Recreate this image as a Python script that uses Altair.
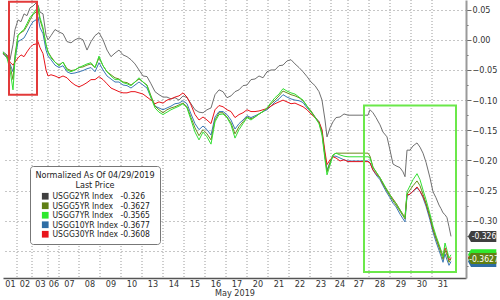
import altair as alt
import pandas as pd
from itertools import accumulate

FONT = "Liberation Sans Narrow, Arial Narrow, DejaVu Sans Condensed, sans-serif"

# ---- x axis: trading sessions (label, number of intraday bars shown) ----
day_labels = ["01", "02", "03", "06", "07", "08", "09", "10", "13", "14", "15", "16",
              "17", "20", "21", "22", "23", "24", "27", "28", "29", "30", "31"]
session_bars = [14, 15, 16, 11, 20, 21, 21, 21, 21, 21, 21, 21,
                21, 21, 21, 21, 21, 17, 21, 21, 21, 21, 21]

# bar index of each sampled reading
bar = [0, 4, 7, 10, 12, 15, 18, 21, 24, 27, 30, 33, 35, 37, 40, 43, 45, 48,
       52, 56, 60, 64, 68, 72, 76, 80, 84, 88, 92, 96, 100, 104, 108, 112, 116, 120, 124, 128, 132, 136, 140, 144,
       148, 152, 156, 160, 164, 168, 172, 176, 180, 184, 188, 192, 196, 200, 204, 208, 212, 216, 220, 224,
       228, 232, 236, 240, 244, 248, 252, 256, 260, 264, 268, 272, 276, 280, 284, 288, 292, 296, 300, 304,
       308, 312, 316,
       319, 322, 324, 327, 330, 333, 337, 341,
       345, 349, 353, 357, 361, 365,
       367, 370, 373, 377, 380, 384, 387, 390, 393, 397, 400, 402, 404, 407, 410, 414, 417, 420, 423, 427,
       430, 433, 436, 438, 440, 442, 444, 446, 448]

usgg2 = [-0.020, -0.025, -0.033, -0.008, 0.017, 0.033, 0.030, 0.043, 0.040, 0.053, 0.056, 0.061, 0.058, 0.046, 0.043, 0.008, 0.000, 0.007,
         0.017, 0.013, 0.010, -0.003, -0.005, 0.000, 0.003, 0.000, -0.017, -0.003, 0.007, 0.012, 0.000, -0.017, -0.028, -0.022, -0.017, -0.025, -0.028, -0.033, -0.040, -0.050, -0.060, -0.061,
         -0.073, -0.086, -0.091, -0.095, -0.095, -0.098, -0.096, -0.100, -0.093, -0.096,
         -0.106, -0.116, -0.120, -0.121, -0.116, -0.113, -0.091, -0.083, -0.086, -0.096,
         -0.093, -0.086, -0.083, -0.076, -0.075, -0.066, -0.065, -0.060, -0.063, -0.053,
         -0.050, -0.050, -0.043, -0.042, -0.035, -0.033, -0.040, -0.046, -0.053, -0.061,
         -0.070, -0.076, -0.086,
         -0.100, -0.133, -0.161, -0.146, -0.136, -0.129, -0.128, -0.123,
         -0.125, -0.125, -0.125, -0.125, -0.125, -0.125,
         -0.116, -0.121, -0.129, -0.141, -0.153, -0.161, -0.183, -0.206, -0.209, -0.212, -0.219, -0.227, -0.183, -0.183,
         -0.176, -0.171, -0.178, -0.188, -0.203, -0.229, -0.252, -0.262, -0.274, -0.280, -0.287, -0.290, -0.295, -0.310, -0.326]

usgg5 = [-0.022, -0.028, -0.043, -0.066, -0.025, 0.007, 0.012, 0.015, 0.023, 0.033, 0.042, 0.046, 0.051, 0.033, 0.017, -0.008, -0.020, -0.028,
         -0.037, -0.042, -0.037, -0.048, -0.051, -0.050, -0.046, -0.045, -0.042, -0.040, -0.046, -0.030, -0.043, -0.053, -0.058, -0.063, -0.065, -0.070, -0.071, -0.075, -0.070, -0.065, -0.070, -0.075,
         -0.093, -0.110, -0.116, -0.121, -0.116, -0.113, -0.111, -0.108, -0.105, -0.111,
         -0.129, -0.146, -0.159, -0.149, -0.156, -0.166, -0.133, -0.121, -0.121, -0.128,
         -0.138, -0.156, -0.144, -0.136, -0.128, -0.131, -0.128, -0.123, -0.119, -0.114,
         -0.106, -0.100, -0.093, -0.085, -0.088, -0.091, -0.093, -0.096, -0.101, -0.110,
         -0.118, -0.128, -0.138,
         -0.154, -0.194, -0.219, -0.204, -0.191, -0.188, -0.188, -0.188,
         -0.188, -0.188, -0.188, -0.188, -0.188, -0.188,
         -0.193, -0.211, -0.219, -0.229, -0.239, -0.251, -0.259, -0.267, -0.274, -0.284, -0.292, -0.297, -0.256, -0.249,
         -0.242, -0.234, -0.242, -0.256, -0.271, -0.294, -0.314, -0.330, -0.344, -0.354, -0.364, -0.349, -0.357, -0.369, -0.3627]

usgg7 = [-0.020, -0.030, -0.050, -0.083, -0.033, 0.008, 0.013, 0.017, 0.027, 0.037, 0.043, 0.050, 0.055, 0.037, 0.020, -0.008, -0.020, -0.030,
         -0.037, -0.043, -0.037, -0.050, -0.053, -0.050, -0.046, -0.043, -0.040, -0.038, -0.046, -0.027, -0.043, -0.053, -0.060, -0.066, -0.066, -0.071, -0.073, -0.076, -0.070, -0.063, -0.070, -0.076,
         -0.096, -0.113, -0.120, -0.124, -0.120, -0.116, -0.113, -0.110, -0.106, -0.113,
         -0.133, -0.153, -0.166, -0.153, -0.161, -0.173, -0.136, -0.124, -0.123, -0.129,
         -0.141, -0.163, -0.149, -0.139, -0.129, -0.133, -0.128, -0.123, -0.119, -0.113,
         -0.104, -0.096, -0.090, -0.081, -0.085, -0.088, -0.090, -0.095, -0.100, -0.110,
         -0.120, -0.129, -0.139,
         -0.158, -0.199, -0.224, -0.208, -0.191, -0.188, -0.191, -0.193,
         -0.194, -0.194, -0.194, -0.194, -0.194, -0.194,
         -0.196, -0.212, -0.219, -0.229, -0.237, -0.249, -0.257, -0.265, -0.271, -0.282, -0.290, -0.295, -0.252, -0.242,
         -0.232, -0.222, -0.232, -0.249, -0.265, -0.289, -0.309, -0.325, -0.339, -0.349, -0.360, -0.337, -0.349, -0.362, -0.3565]

usgg10 = [-0.023, -0.030, -0.040, -0.053, -0.033, -0.003, 0.000, 0.003, 0.012, 0.022, 0.030, 0.033, 0.038, 0.020, 0.010, -0.017, -0.027, -0.033,
          -0.042, -0.046, -0.043, -0.053, -0.056, -0.055, -0.053, -0.051, -0.048, -0.046, -0.053, -0.038, -0.050, -0.060, -0.065, -0.070, -0.070, -0.075, -0.076, -0.080, -0.075, -0.070, -0.075, -0.080,
          -0.096, -0.110, -0.113, -0.116, -0.113, -0.110, -0.106, -0.105, -0.101, -0.106,
          -0.123, -0.139, -0.149, -0.143, -0.149, -0.158, -0.128, -0.119, -0.119, -0.124,
          -0.133, -0.148, -0.139, -0.133, -0.126, -0.129, -0.126, -0.123, -0.119, -0.116,
          -0.110, -0.103, -0.098, -0.091, -0.095, -0.098, -0.100, -0.101, -0.104, -0.113,
          -0.119, -0.128, -0.136,
          -0.153, -0.193, -0.216, -0.203, -0.193, -0.193, -0.196, -0.199,
          -0.201, -0.201, -0.201, -0.201, -0.201, -0.201,
          -0.204, -0.216, -0.224, -0.232, -0.242, -0.254, -0.262, -0.271, -0.277, -0.289, -0.297, -0.302, -0.259, -0.256,
          -0.251, -0.246, -0.251, -0.262, -0.276, -0.299, -0.319, -0.335, -0.349, -0.359, -0.369, -0.355, -0.365, -0.374, -0.3677]

usgg30 = [-0.023, -0.027, -0.037, -0.042, -0.037, -0.030, -0.025, -0.028, -0.020, -0.013, -0.008, -0.007, -0.003, -0.013, -0.023, -0.050, -0.060, -0.058,
          -0.060, -0.063, -0.060, -0.063, -0.070, -0.075, -0.078, -0.075, -0.071, -0.066, -0.066, -0.061, -0.066, -0.073, -0.080, -0.083, -0.086, -0.088, -0.088, -0.086, -0.086, -0.088, -0.090, -0.095,
          -0.100, -0.106, -0.103, -0.105, -0.100, -0.098, -0.095, -0.093, -0.088, -0.095,
          -0.108, -0.124, -0.133, -0.128, -0.133, -0.139, -0.116, -0.109, -0.111, -0.116,
          -0.119, -0.129, -0.124, -0.121, -0.116, -0.119, -0.119, -0.118, -0.116, -0.114,
          -0.110, -0.106, -0.103, -0.100, -0.103, -0.106, -0.105, -0.108, -0.111, -0.116,
          -0.123, -0.129, -0.136,
          -0.149, -0.186, -0.207, -0.199, -0.194, -0.196, -0.201, -0.199,
          -0.202, -0.202, -0.202, -0.202, -0.202, -0.202,
          -0.204, -0.216, -0.222, -0.229, -0.239, -0.249, -0.257, -0.264, -0.271, -0.282, -0.290, -0.294, -0.257, -0.256,
          -0.251, -0.244, -0.251, -0.260, -0.272, -0.294, -0.314, -0.328, -0.342, -0.350, -0.358, -0.345, -0.353, -0.365, -0.3608]

series_names = ["USGG2YR Index", "USGG5YR Index", "USGG7YR Index", "USGG10YR Index", "USGG30YR Index"]
last_price = ["-0.326", "-0.3627", "-0.3565", "-0.3677", "-0.3608"]
tag_colors = ["#3f3f3f", "#5f7f14", "#2ee82e", "#2e6da4", "#e8141b"]   # legend swatches / price tags
line_colors = ["#707070", "#6a8c1c", "#33e033", "#3b78b5", "#e8141b"]
series_values = [usgg2, usgg5, usgg7, usgg10, usgg30]

# annotation boxes (bar index, yield change)
boxes = pd.DataFrame({
    "x0": [6, 361], "x1": [34, 453],
    "y0": [0.063, -0.109], "y1": [-0.091, -0.385],
    "c": ["#e23a3a", "#6be84a"],
})

for s in series_values:
    assert len(s) == len(bar)

pad = {"USGG10YR Index": "\u00a0", "USGG30YR Index": "\u00a0"}
legend_labels = [n + pad.get(n, "\u00a0\u00a0\u00a0") + v for n, v in zip(series_names, last_price)]

frames = []
for lab, vals in zip(legend_labels, series_values):
    frames.append(pd.DataFrame({"bar": bar, "value": vals, "label": lab}))

starts = [0] + list(accumulate(session_bars))[:-1]
centers = [s + w / 2 for s, w in zip(starts, session_bars)]
bounds = pd.DataFrame({"bar": list(accumulate(session_bars))[:-1]})

x_scale = alt.Scale(domain=[0, 463], nice=False, zero=False)
y_scale = alt.Scale(domain=[-0.395, 0.066], nice=False, zero=False)

lab_js = "[" + ",".join("'%s'" % d for d in day_labels) + "]"
ctr_js = "[" + ",".join(str(c) for c in centers) + "]"
x_axis = alt.Axis(values=centers, labelExpr=f"{lab_js}[indexof({ctr_js}, datum.value)]",
                  ticks=False, grid=False, domainColor="#555555", domainWidth=1.5,
                  labelOverlap=False, labelFlush=False, labelFontSize=9, labelColor="#333333",
                  labelPadding=1, title="May 2019", titleFontSize=9, titleFontWeight="normal",
                  titleColor="#333333", titlePadding=0)

major = "abs(datum.value*20 - round(datum.value*20)) < 0.001"
shown = f"({major}) && datum.value > -0.34"
y_ticks = [-0.375, -0.35, -0.325, -0.3, -0.275, -0.25, -0.225, -0.2, -0.175, -0.15, -0.125,
           -0.1, -0.075, -0.05, -0.025, 0.0, 0.025, 0.05]
y_axis = alt.Axis(orient="right", values=y_ticks,
                  labelExpr=f"{shown} ? format(datum.value, '.2f') : ''",
                  grid=True, gridDash=[1, 3], gridColor="#8c8c8c",
                  gridOpacity={"condition": {"test": major, "value": 1}, "value": 0},
                  tickSize={"condition": {"test": major, "value": 5}, "value": 2},
                  tickColor="#666666", domainColor="#9a9a9a", domainWidth=2,
                  labelFontSize=9, labelColor="#333333", labelPadding=1, title=None)

X = lambda f: alt.X(f, scale=x_scale, axis=x_axis)
Y = lambda f: alt.Y(f, scale=y_scale, axis=y_axis)
color_scale = alt.Scale(domain=legend_labels, range=tag_colors)

legend = alt.Legend(orient="none", legendX=27, legendY=166,
                    title=["Normalized As Of 04/29/2019", "Last Price"],
                    titleFontSize=9, titleFontWeight="normal", titleAlign="center", titleAnchor="middle",
                    titleLineHeight=10, titlePadding=2, titleColor="#222222",
                    labelFontSize=8.5, labelColor="#222222", labelOffset=3,
                    symbolType="square", symbolSize=45, symbolStrokeWidth=0,
                    rowPadding=0.5, padding=5, strokeColor="#777777", fillColor="white",
                    cornerRadius=3)

layers = []
layers.append(alt.Chart(bounds).mark_rule(strokeDash=[1, 2], color="#9a9a9a", strokeWidth=1)
              .encode(x=X("bar:Q")))

for i in [0, 3, 4, 1, 2]:
    layers.append(alt.Chart(frames[i]).mark_line(strokeWidth=1, color=line_colors[i])
                  .encode(x=X("bar:Q"), y=Y("value:Q")))

layers.append(alt.Chart(boxes).mark_rect(fillOpacity=0, strokeWidth=2)
              .encode(x=X("x0:Q"), x2="x1:Q", y=Y("y0:Q"), y2="y1:Q",
                      stroke=alt.Stroke("c:N", scale=None)))

# last-price tags on the right axis (drawn red, blue, green, olive, grey)
PATH = "M-0.55,0 L0,-1 L4.6,-1 L4.6,1 L0,1 Z"
tag_order = [4, 3, 2, 1, 0]
tag_text = {0: "white", 1: "white"}
for i in tag_order:
    d = pd.DataFrame({"v": [float(last_price[i])], "t": [last_price[i]], "label": [legend_labels[i]]})
    layers.append(alt.Chart(d).mark_point(shape=PATH, size=121, filled=True, strokeWidth=0,
                                          opacity=1, clip=False)
                  .encode(x=alt.value(468), y=Y("v:Q"),
                          color=alt.Color("label:N", scale=color_scale, legend=legend)))
    if i in tag_text:
        layers.append(alt.Chart(d).mark_text(fontSize=8.5, align="center", baseline="middle",
                                             color=tag_text[i], clip=False)
                      .encode(x=alt.value(481), y=Y("v:Q"), text="t:N"))

chart = (alt.layer(*layers)
         .properties(width=463, height=278,
                     padding={"left": 3, "top": 0, "right": 34, "bottom": 22},
                     autosize=alt.AutoSizeParams(type="none"), background="white")
         .configure(font=FONT)
         .configure_view(stroke=None))

chart.save("out.html", embed_options={"renderer": "svg", "actions": False})
